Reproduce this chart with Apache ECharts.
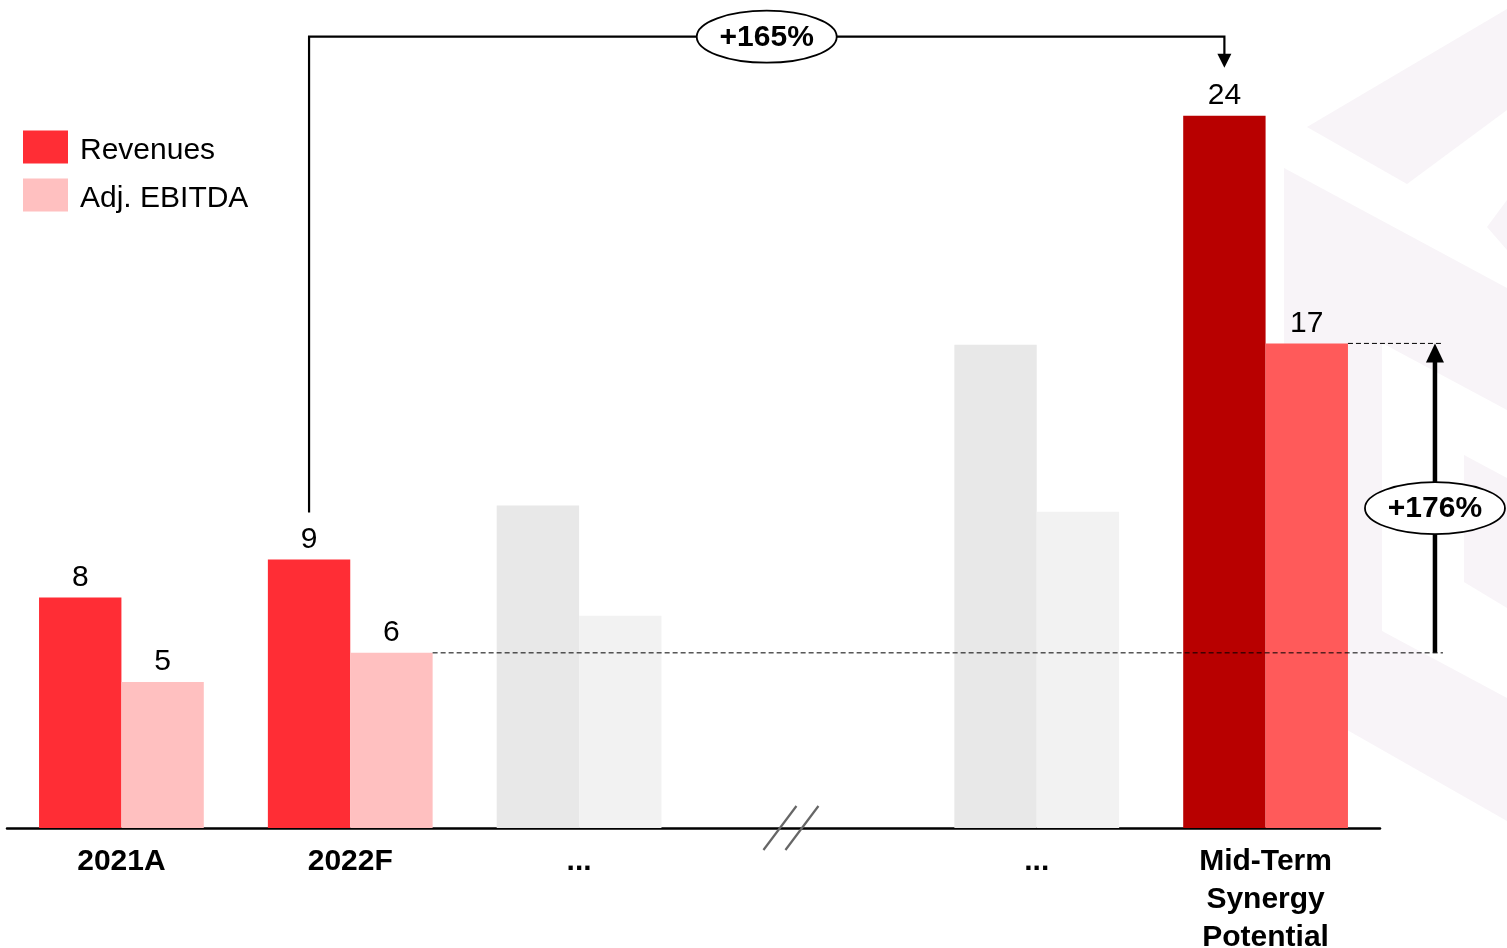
<!DOCTYPE html>
<html><head><meta charset="utf-8">
<script src="https://cdn.jsdelivr.net/npm/echarts@6/dist/echarts.min.js"></script>
<style>html,body{margin:0;padding:0;background:#fff;overflow:hidden}#c{width:1507px;height:948px}</style>
</head><body><div id="c"></div>
<script>
// ---------- data ----------
const categories = ['2021A', '2022F', '...', '', '...', 'Mid-Term\nSynergy\nPotential'];
const revenues   = [7.9, 9.2, 11.05, null, 16.55, 24.4];
const adjEbitda  = [5.0, 6.0, 7.27, null, 10.83, 16.6];
const reported   = [true, true, false, false, false, true];
const seriesNames = ['Revenues', 'Adj. EBITDA'];
const growthLabels = ['+165%', '+176%'];

// ---------- styling ----------
const FONT = "'Liberation Sans', Arial, Helvetica, sans-serif";
const C = {
  rev: '#FF2D35', ebitda: '#FFC0C0',
  revHi: '#B80000', ebitdaHi: '#FF5A5A',
  revGrey: '#E8E8E8', ebitdaGrey: '#F2F2F2',
  wm: '#F8F4F8'
};
const hiIndex = categories.length - 1;

function mkData(vals, base, hi, grey) {
  return vals.map((v, i) => {
    if (v == null) return null;
    const col = i === hiIndex ? hi : (reported[i] ? base : grey);
    return { value: v, itemStyle: { color: col }, label: { show: reported[i] } };
  });
}

const chart = echarts.init(document.getElementById('c'), null, { renderer: 'canvas' });
const labelStyle = {
  show: true, position: 'top', distance: 5, fontSize: 30, color: '#000', fontFamily: FONT,
  formatter: p => String(Math.round(p.value))
};
chart.setOption({
  animation: false,
  backgroundColor: '#fff',
  grid: { left: 7, right: 127, top: 69, bottom: 120, containLabel: false, outerBoundsMode: 'none' },
  legend: {
    orient: 'vertical', left: 18, top: 123, itemWidth: 45, itemHeight: 33, itemGap: 10,
    icon: 'rect', selectedMode: false,
    formatter: name => '{a|' + name + '}',
    textStyle: { fontSize: 30, color: '#000', fontFamily: FONT,
      rich: { a: { fontSize: 30, color: '#000', fontFamily: FONT, lineHeight: 30, padding: [8, 0, 0, 7] } } },
    data: seriesNames
  },
  xAxis: {
    type: 'category', data: categories,
    axisLine: { show: true, lineStyle: { color: '#000', width: 2.5 } },
    axisTick: { show: false },
    axisLabel: { interval: 0, fontSize: 30, fontWeight: 'bold', color: '#000', fontFamily: FONT, lineHeight: 38, margin: 15 }
  },
  yAxis: { type: 'value', min: 0, max: 26, show: false, splitLine: { show: false } },
  series: [
    { name: seriesNames[0], type: 'bar', barGap: '0%', barCategoryGap: '28%',
      itemStyle: { color: C.rev }, label: labelStyle,
      data: mkData(revenues, C.rev, C.revHi, C.revGrey) },
    { name: seriesNames[1], type: 'bar', barGap: '0%', barCategoryGap: '28%',
      itemStyle: { color: C.ebitda }, label: labelStyle,
      data: mkData(adjEbitda, C.ebitda, C.ebitdaHi, C.ebitdaGrey) }
  ]
});

// ---------- annotations computed from the chart's own scales ----------
const px = (i, v) => chart.convertToPixel({ gridIndex: 0 }, [i, v]);
const catW = px(1, 0)[0] - px(0, 0)[0];
const barW = catW * 0.72 / 2;
const baseY = px(0, 0)[1];

const revCx = i => px(i, 0)[0] - barW / 2;
const ebRight = i => px(i, 0)[0] + barW;

const x22 = revCx(1), top22 = px(1, revenues[1])[1];
const xMT = revCx(hiIndex), topMT = px(hiIndex, revenues[hiIndex])[1];
const bracketY = topMT - 79;
const line = (pts, w, dash) => ({
  type: 'polyline', z: 100, shape: { points: pts },
  style: { stroke: '#000', lineWidth: w, fill: null, lineDash: dash || null }
});
const ellipse = (cx, cy, txt) => ([
  { type: 'ellipse', z: 101, shape: { cx: cx, cy: cy, rx: 70, ry: 26 },
    style: { fill: '#fff', stroke: '#000', lineWidth: 1.8 } },
  { type: 'text', z: 102, x: cx, y: cy + 1,
    style: { text: txt, fill: '#000', font: 'bold 30px ' + FONT, align: 'center', verticalAlign: 'middle' } }
]);

const eb22Y = px(1, adjEbitda[1])[1];
const ebMTY = px(hiIndex, adjEbitda[hiIndex])[1];
const arrowX = ebRight(hiIndex) + 87;

const breakX = px(3, 0)[0];
const slash = dx => ({ type: 'line', z: 100,
  shape: { x1: breakX + dx - 16, y1: baseY + 22, x2: breakX + dx + 17, y2: baseY - 22 },
  style: { stroke: '#666', lineWidth: 2.2 } });

// faint watermark logo (decorative background)
const wm = pts => ({ type: 'polygon', z: -10, silent: true, shape: { points: pts }, style: { fill: C.wm } });

const graphics = [
  wm([[1507, 9], [1307, 127], [1407, 184], [1507, 110]]),
  wm([[1507, 200], [1487, 227], [1507, 250]]),
  wm([[1284, 168], [1507, 288], [1507, 410], [1382, 343], [1382, 631], [1507, 698], [1507, 821], [1284, 694]]),
  wm([[1464, 455], [1507, 478], [1507, 608], [1464, 582]]),

  line([[x22, top22 - 47], [x22, bracketY], [xMT, bracketY], [xMT, topMT - 60]], 2.2),
  { type: 'polygon', z: 100, shape: { points: [[xMT - 7, topMT - 62], [xMT + 7, topMT - 62], [xMT, topMT - 48]] }, style: { fill: '#000' } },
  ...ellipse((x22 + xMT) / 2, bracketY, growthLabels[0]),

  line([[ebRight(1), eb22Y], [arrowX + 8, eb22Y]], 1, [5, 3]),
  line([[ebRight(hiIndex), ebMTY], [arrowX + 8, ebMTY]], 1, [5, 3]),
  line([[arrowX, eb22Y], [arrowX, ebMTY + 14]], 4.5),
  { type: 'polygon', z: 100, shape: { points: [[arrowX - 9, ebMTY + 19], [arrowX + 9, ebMTY + 19], [arrowX, ebMTY]] }, style: { fill: '#000' } },
  ...ellipse(arrowX, (eb22Y + ebMTY) / 2 + 10, growthLabels[1]),

  slash(-28.5), slash(-6.5)
];
chart.setOption({ graphic: { elements: graphics } });
</script>
</body></html>
